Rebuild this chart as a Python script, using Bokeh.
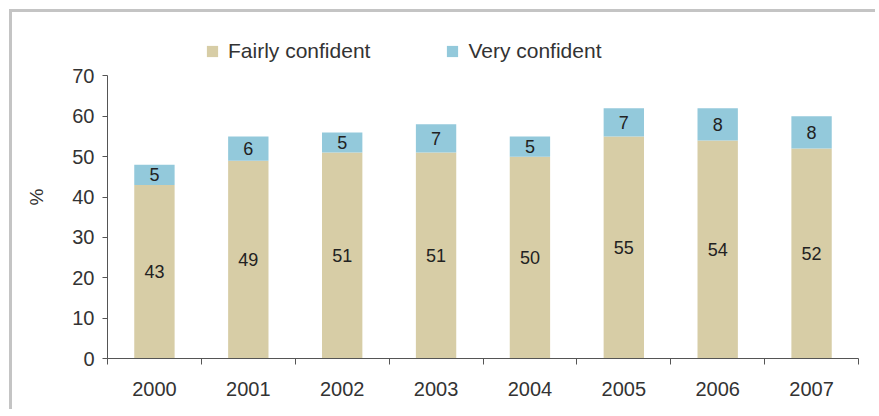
from bokeh.plotting import figure
from bokeh.models import ColumnDataSource, Legend, LegendItem, FixedTicker, Range1d
from bokeh.core.properties import value
from bokeh.embed import file_html
from bokeh.resources import INLINE

years = ["2000", "2001", "2002", "2003", "2004", "2005", "2006", "2007"]
fairly = [43, 49, 51, 51, 50, 55, 54, 52]
very = [5, 6, 5, 7, 5, 7, 8, 8]
y_ticks = [0, 10, 20, 30, 40, 50, 60, 70]

FAIRLY_COLOR = "#D7CDA6"
VERY_COLOR = "#93C9DB"
FONT = "Liberation Sans"
TXT = "#333333"

n = len(years)
centers = [i + 0.5 for i in range(n)]
totals = [f + v for f, v in zip(fairly, very)]
src = ColumnDataSource(dict(
    x=centers, fairly=fairly, very=very, total=totals,
    fmid=[f / 2 for f in fairly],
    vmid=[f + v / 2 for f, v in zip(fairly, very)],
    flab=[str(f) for f in fairly], vlab=[str(v) for v in very],
))

# frame extends above 70 to leave room for the legend; the axis itself stops at 70
p = figure(width=866, height=400, output_backend="svg", toolbar_location=None,
           x_range=Range1d(0, n), y_range=Range1d(0, 80),
           min_border_left=95, min_border_right=20, min_border_top=23, min_border_bottom=54)
p.styles = {"border-top": "3px solid #c4c4c4", "border-left": "3px solid #c4c4c4",
            "margin-left": "9px", "margin-top": "9px"}
p.outline_line_color = None
p.xgrid.grid_line_color = None
p.ygrid.grid_line_color = None
p.background_fill_color = "white"
p.border_fill_color = "white"

r1 = p.vbar(x="x", bottom=0, top="fairly", width=0.43, source=src,
            fill_color=FAIRLY_COLOR, line_color=None)
r2 = p.vbar(x="x", bottom="fairly", top="total", width=0.43, source=src,
            fill_color=VERY_COLOR, line_color=None)

for ycol, tcol in (("fmid", "flab"), ("vmid", "vlab")):
    p.text(x="x", y=ycol, text=tcol, source=src, text_align="center",
           text_baseline="middle", text_font=value(FONT),
           text_font_size="18px", text_color="#222222")

# x axis: labels at centers, tick marks at category boundaries
xa = p.xaxis[0]
xa.ticker = FixedTicker(ticks=centers, minor_ticks=list(range(n + 1)))
xa.major_label_overrides = {c: y for c, y in zip(centers, years)}
xa.major_tick_out = 0
xa.major_tick_in = 0
xa.minor_tick_out = 6
xa.minor_tick_in = 0
xa.minor_tick_line_color = "#555555"
xa.axis_line_color = "#555555"
xa.major_label_standoff = 17
xa.major_label_text_font = FONT
xa.major_label_text_font_size = "20px"
xa.major_label_text_color = TXT

ya = p.yaxis[0]
ya.ticker = FixedTicker(ticks=y_ticks)
ya.bounds = (y_ticks[0], y_ticks[-1])
ya.major_tick_out = 5
ya.major_tick_in = 0
ya.minor_tick_out = 0
ya.minor_tick_in = 0
ya.major_tick_line_color = "#555555"
ya.axis_line_color = "#555555"
ya.major_label_standoff = 8
ya.major_label_text_font = FONT
ya.major_label_text_font_size = "20px"
ya.major_label_text_color = TXT
ya.axis_label = "%"
ya.axis_label_text_font = FONT
ya.axis_label_text_font_style = "normal"
ya.axis_label_text_font_size = "19px"
ya.axis_label_text_color = TXT
ya.axis_label_standoff = 22

legend = Legend(items=[LegendItem(label="Fairly confident", renderers=[r1]),
                       LegendItem(label="Very confident", renderers=[r2])],
                orientation="horizontal", location=(98, 295),
                border_line_color=None, background_fill_alpha=0,
                padding=0, margin=0, spacing=75,
                glyph_width=14, glyph_height=14, label_standoff=9,
                label_height=20, label_text_font=FONT,
                label_text_font_size="21px", label_text_color=TXT)
p.add_layout(legend, "center")

open("out.html", "w").write(file_html(p, INLINE))
